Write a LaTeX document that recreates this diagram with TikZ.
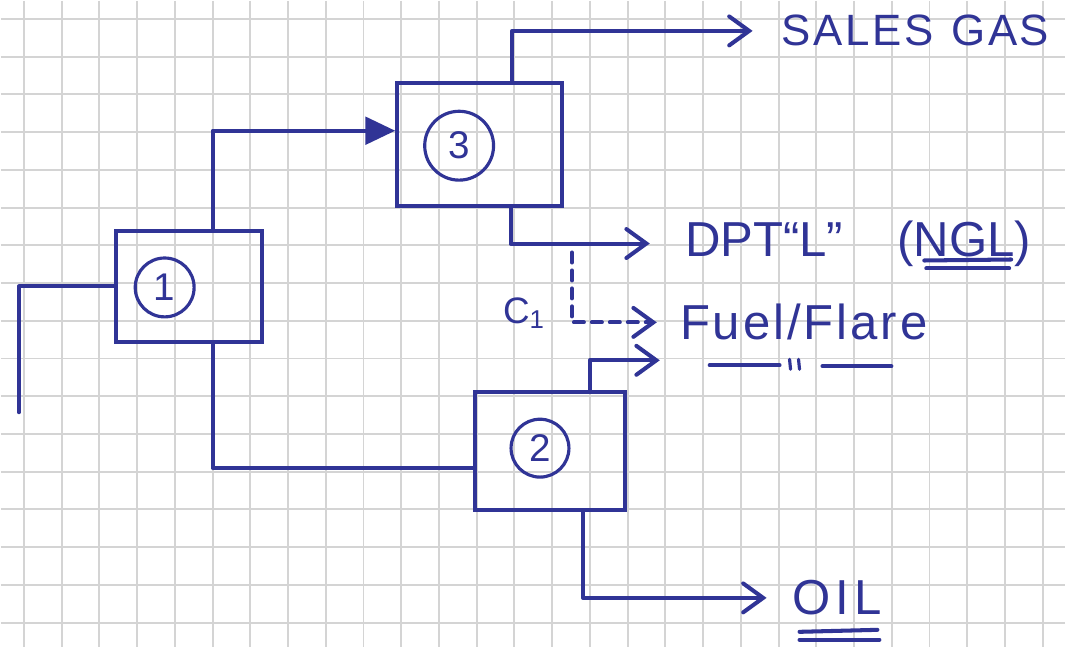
\documentclass[tikz,border=0pt]{standalone}
\usepackage{fontspec}
\setmainfont{Liberation Sans}
\usepackage{tikz}
\usetikzlibrary{arrows.meta,positioning}
\definecolor{ink}{RGB}{48,52,150}
\definecolor{paper}{RGB}{212,212,212}

\begin{document}
\begin{tikzpicture}[x=0.02cm, y=-0.02cm,
  unit/.style={draw=ink, line width=2.3pt, rectangle, inner sep=0pt},
  tag/.style={draw=ink, line width=1.8pt, circle, inner sep=0pt, text=ink,
              font=\fontsize{22}{22}\selectfont},
  flow/.style={draw=ink, line width=2.3pt, line join=round, line cap=round},
  outflow/.style={flow, -{Straight Barb[length=0.4cm, width=0.58cm, line cap=round]}},
  label/.style={text=ink, anchor=west, inner ysep=0pt,
                font=\fontsize{27}{27}\selectfont}
]

% Graph paper
\fill[white] (0,0) rectangle (1066,647);
\foreach \i in {0,...,27}
  \draw[paper, line width=1.1pt] ({23+37.8*\i},0) -- ({23+37.8*\i},647);
\foreach \j in {0,...,16}
  \draw[paper, line width=1.1pt] (0,{18+37.8*\j}) -- (1066,{18+37.8*\j});
\useasboundingbox (0,0) rectangle (1066,647);

% Units
\node[unit, minimum width=2.94cm, minimum height=2.24cm] (b1) at (188.5,286) {};
\node[unit, minimum width=3.3cm, minimum height=2.46cm] (b3) at (479.5,143.5) {};
\node[unit, minimum width=3.0cm, minimum height=2.36cm] (b2) at (550,451) {};

\node[tag, minimum size=1.18cm] (n1) at (164,287) {1};
\node[tag, minimum size=1.38cm] (n3) at (459,145) {3};
\node[tag, minimum size=1.16cm] (n2) at (540,448) {2};

% Product streams
\node[label, inner xsep=0.58cm, font=\fontsize{25}{25}\selectfont\addfontfeatures{LetterSpace=6}]
  (sg) at (753,30) {SALES\hspace{0.4em}GAS};
\node[label, inner xsep=0.7cm, font=\fontsize{28}{28}\selectfont] (ngl) at (650,243)
  {DPT``L''\hspace{1.1em}(NGL)};
\node[label, inner xsep=0.46cm, font=\fontsize{28}{28}\selectfont\addfontfeatures{LetterSpace=6}]
  (fuel) at (657,322) {Fuel/Flare};
\node[label, inner xsep=0.52cm, font=\fontsize{28}{28}\selectfont\addfontfeatures{LetterSpace=10}]
  (oil) at (767,598) {OIL};
\node[text=ink, font=\fontsize{21}{21}\selectfont] (c1) at (524,313) {C\textsubscript{1}};

% Feed and connections
\coordinate (feed) at (18,412);
\coordinate (c1top) at (572,252);
\coordinate (fuel2) at (660,360);

\draw[flow] (feed) |- (b1.west);
\draw[flow, -{Triangle[length=0.6cm, width=0.55cm]}] ([xshift=0.47cm]b1.north) |- ([yshift=0.27cm]b3.west);
\draw[flow] ([xshift=0.47cm]b1.south) |- ([yshift=-0.34cm]b2.west);
\draw[outflow] ([xshift=0.65cm]b3.north) |- (sg.west);
\draw[outflow] ([xshift=0.62cm]b3.south) |- (ngl.west);
\draw[outflow, dash pattern=on 0.2cm off 0.16cm] (c1top) |- (fuel.west);
\draw[outflow] ([xshift=0.8cm]b2.north) |- (fuel2);
\draw[outflow] ([xshift=0.66cm]b2.south) |- (oil.west);

% Underlines and ditto
\draw[flow] (925,260) -- (1012,259);
\draw[flow] (927,268) -- (1010,268);
\draw[flow] (800,632) -- (878,630);
\draw[flow] (800,640) -- (880,640);
\draw[flow] (710,365) -- (780,365);
\draw[flow] (823,366) -- (892,366);
\draw[flow, line width=1.8pt] (790,359) -- (791,369);
\draw[flow, line width=1.8pt] (799,359) -- (800,369);

\end{tikzpicture}
\end{document}
